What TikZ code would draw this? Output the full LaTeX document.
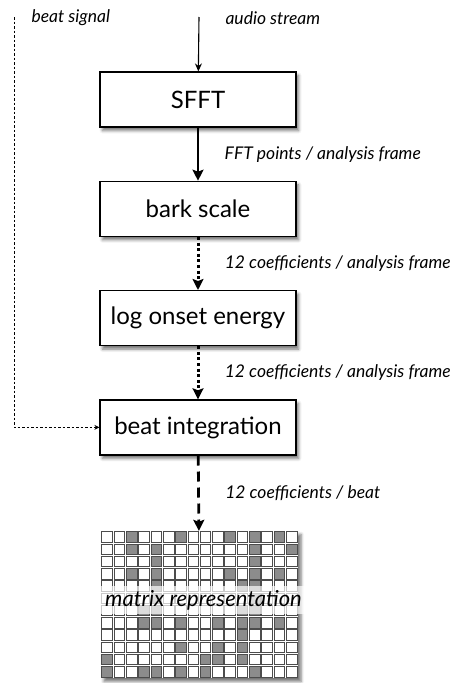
\documentclass[tikz,border=0pt]{standalone}
\usepackage{fontspec}
\setmainfont{Lato}
\usepackage{tikz}
\usetikzlibrary{positioning,arrows.meta,shadows.blur}
\tikzset{>={Stealth[length=11pt,width=11pt,inset=2pt]}}

\begin{document}
\begin{tikzpicture}[x=1pt, y=-1pt, node distance=109.3pt,
    block/.style={draw, line width=1.2pt, fill=white, minimum width=196pt, minimum height=55pt,
      font=\fontsize{24}{26}\selectfont,
      blur shadow={shadow xshift=2.5pt, shadow yshift=-3.5pt, shadow blur radius=3pt, shadow opacity=55}},
    lbl/.style={font=\fontsize{17.5}{19}\selectfont\itshape},
    onedge/.style={lbl, right=22pt},
    thinline/.style={-{Stealth[length=8pt,width=7pt]}, line width=1.1pt},
    solidline/.style={->, line width=2.8pt},
    dotline/.style={->, line width=3pt, dash pattern=on 3pt off 2.6pt},
    dashline/.style={->, line width=2.8pt, dash pattern=on 10pt off 6pt},
    signal/.style={-{Stealth[length=5pt,width=5pt]}, line width=0.7pt, dash pattern=on 2.5pt off 2pt},
    cell/.style={draw=black!70, line width=0.6pt, fill=white}]
  \useasboundingbox (0,0) rectangle (458,683);
  \node[block] (sfft) at (198,99.5) {SFFT};
  \node[block] (bark) [below of=sfft] {bark scale};
  \node[block] (onset) [below of=bark] {log onset energy};
  \node[block] (beat) [below of=onset] {beat integration};
  \node[fill=white, minimum width=197pt, minimum height=147pt, inner sep=0pt,
    blur shadow={shadow xshift=3pt, shadow yshift=-3.5pt, shadow blur radius=3pt, shadow opacity=55}] (mat) at (199.5,604.5) {};
  % inputs
  \coordinate (in) at (199,17);
  \coordinate (bs) at (14,17);
  \node[lbl, anchor=west] (audio) at (222,18) {audio stream};
  \node[lbl, anchor=west] (bsl) at (28,18) {beat signal};
  \path (in) edge[thinline] (sfft)
        (sfft) edge[solidline] node[onedge] {FFT points / analysis frame} (bark)
        (bark) edge[dotline] node[onedge] {12 coefficients / analysis frame} (onset)
        (onset) edge[dotline] node[onedge] {12 coefficients / analysis frame} (beat)
        (beat) edge[dashline] node[onedge] {12 coefficients / beat} (mat);
  \draw[signal] (bs) |- (beat);
  % matrix cells
  \begin{scope}[shift={(mat.north west)}, x=12.3125pt, y=-12.25pt]
    \foreach \c in {0,...,15}
      \foreach \r in {0,...,11}
        \draw[cell] (\c+0.07,\r+0.07) rectangle (\c+0.93,\r+0.93);
    \foreach \c/\r in {2/0,6/0,10/0,12/0,14/0, 2/1,4/1,12/1,15/1, 4/2,12/2,
        2/3,4/3,10/3,12/3,14/3, 4/4,11/4,12/4, 4/5,12/5, 3/6,4/6,11/6,12/6,
        3/7,4/7,6/7,9/7,11/7,12/7,14/7, 11/8, 6/9,9/9,11/9, 0/10,8/10,9/10,11/10,
        0/11,3/11,4/11,6/11,8/11,12/11}
      \draw[cell, fill=black!45] (\c+0.07,\r+0.07) rectangle (\c+0.93,\r+0.93);
  \end{scope}
  \node[fill=white, fill opacity=0.7, text opacity=1, minimum width=215pt, minimum height=28pt,
    inner sep=0pt, font=\fontsize{22}{24}\selectfont\itshape] (cap) at (203.5,600) {matrix representation};
\end{tikzpicture}
\end{document}
